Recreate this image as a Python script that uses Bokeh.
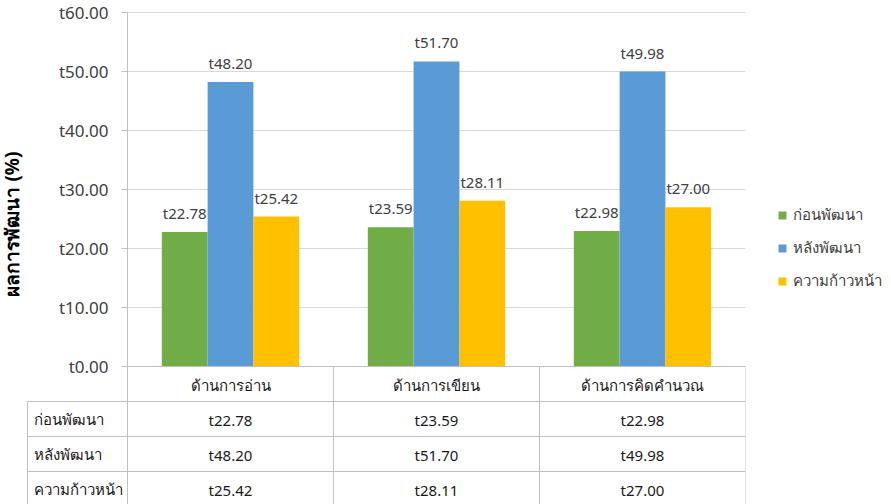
from bokeh.plotting import figure
from bokeh.models import Range1d, FixedTicker, Legend, LegendItem
from bokeh.embed import file_html
from bokeh.resources import INLINE
from bokeh.core.properties import value

# ---- data ----
categories = ["ด้านการอ่าน", "ด้านการเขียน", "ด้านการคิดคำนวณ"]
series_names = ["ก่อนพัฒนา", "หลังพัฒนา", "ความก้าวหน้า"]
before = [22.78, 23.59, 22.98]
after = [48.20, 51.70, 49.98]
progress = [25.42, 28.11, 27.00]
y_ticks = [0, 10, 20, 30, 40, 50, 60]
y_tick_labels = ["t0.00", "t10.00", "t20.00", "t30.00", "t40.00", "t50.00", "t60.00"]
y_label = "ผลการพัฒนา (%)"

series_values = [before, after, progress]
colors = ["#70AD47", "#5B9BD5", "#FFC000"]

# ---- styling / layout constants ----
FONT = "Noto Sans"
GRID = "#D9D9D9"
LINE = "#BFBFBF"
TXT = "#404040"
CELL = "#1a1a1a"

CHART_PX = 354.0          # pixel height of the 0..60 value area
TABLE_PX = 138.0          # pixel height of the table area below zero
TOP_PX = 12.0             # space above the top gridline
CAT_PX = 206.0            # pixel width of one category column
LABEL_COL_PX = 100.0      # pixel width of the row-label column
LEFT_PX = 27.0            # space left of the table
ROW_PX = 35.0             # table row height

YMAX = y_ticks[-1]
unit_px = CHART_PX / YMAX
ROW = ROW_PX / unit_px
y_bottom = -TABLE_PX / unit_px
y_top = YMAX + TOP_PX / unit_px

def fmt(v):
    return "t%.2f" % v

n = len(categories)
x_idx = list(range(n))
W = 2.0 / 9.0
bounds = [i - 0.5 for i in range(n + 1)]
x0 = -0.5 - LABEL_COL_PX / CAT_PX
x1 = n - 0.5
x_left = x0 - LEFT_PX / CAT_PX

p = figure(frame_width=int(CAT_PX * n + LABEL_COL_PX + LEFT_PX),
           frame_height=int(CHART_PX + TABLE_PX + TOP_PX),
           x_range=Range1d(x_left, x1), y_range=Range1d(y_bottom, y_top),
           min_border_left=0, min_border_right=146, min_border_top=0, min_border_bottom=0,
           output_backend="svg", toolbar_location=None)
p.outline_line_color = None
p.grid.visible = False

# value gridlines across the category area
gy = y_ticks[1:]
p.segment(x0=[-0.5] * len(gy), x1=[x1] * len(gy), y0=gy, y1=gy, line_color=GRID, line_width=1)

# bars + labels
bar_renderers = []
for s, (vals, col) in enumerate(zip(series_values, colors)):
    xs = [i + (s - 1) * W for i in x_idx]
    r = p.vbar(x=xs, top=vals, width=W, fill_color=col, line_color=None)
    bar_renderers.append(r)
    p.text(x=xs, y=vals, text=[fmt(v) for v in vals], text_align="center",
           text_baseline="alphabetic", y_offset=-19, text_font_size="15px",
           text_color=TXT, text_font=value(FONT))

# ---- data table below the chart ----
nr = len(series_names)
hy = [-(k + 1) * ROW for k in range(nr + 1)]
p.segment(x0=[x0] * len(hy), x1=[x1] * len(hy), y0=hy, y1=hy, line_color=LINE, line_width=1)
p.segment(x0=bounds, x1=bounds, y0=[0] * len(bounds), y1=[y_bottom] * len(bounds),
          line_color=LINE, line_width=1)
p.segment(x0=[x0], x1=[x0], y0=[-ROW], y1=[y_bottom], line_color=LINE, line_width=1)

row_mid = [-(k + 1.5) * ROW for k in range(nr)]
p.text(x=[x0] * nr, y=row_mid, text=series_names, text_align="left",
       text_baseline="middle", x_offset=6, y_offset=0, text_font_size="15px",
       text_color=CELL, text_font=value(FONT))
for s, vals in enumerate(series_values):
    p.text(x=x_idx, y=[row_mid[s]] * n, text=[fmt(v) for v in vals], text_align="center",
           text_baseline="middle", y_offset=1, text_font_size="15px",
           text_color=CELL, text_font=value(FONT))

# ---- axes ----
p.yaxis.fixed_location = -0.5
p.yaxis.bounds = (0, YMAX)
p.yaxis.ticker = FixedTicker(ticks=y_ticks, minor_ticks=[])
p.yaxis.major_label_overrides = {t: l for t, l in zip(y_ticks, y_tick_labels)}
p.yaxis.major_tick_out = 6
p.yaxis.major_tick_in = 0
p.yaxis.major_tick_line_color = LINE
p.yaxis.axis_line_color = LINE
p.yaxis.major_label_standoff = 13
p.yaxis.major_label_text_font = FONT
p.yaxis.major_label_text_font_size = "17px"
p.yaxis.major_label_text_color = TXT
p.yaxis.axis_label = y_label + "\u00a0" * 14
p.yaxis.axis_label_text_font = FONT
p.yaxis.axis_label_text_font_size = "19px"
p.yaxis.axis_label_text_font_style = "bold"
p.yaxis.axis_label_text_color = "#000000"
p.yaxis.axis_label_standoff = 31

p.xaxis.fixed_location = 0
p.xaxis.bounds = (-0.5, x1)
p.xaxis.ticker = FixedTicker(ticks=x_idx, minor_ticks=[])
p.xaxis.major_label_overrides = {i: c for i, c in zip(x_idx, categories)}
p.xaxis.major_tick_line_color = None
p.xaxis.major_tick_out = 0
p.xaxis.major_tick_in = 0
p.xaxis.axis_line_color = LINE
p.xaxis.major_label_standoff = 8
p.xaxis.major_label_text_font = FONT
p.xaxis.major_label_text_font_size = "15px"
p.xaxis.major_label_text_color = CELL

legend = Legend(items=[LegendItem(label=nm, renderers=[r]) for nm, r in zip(series_names, bar_renderers)],
                location=(32, 211), glyph_width=10, glyph_height=10, label_height=14,
                spacing=9, padding=0, margin=0, border_line_color=None,
                background_fill_alpha=0, label_standoff=6,
                label_text_font=FONT, label_text_font_size="15px", label_text_color=TXT)
p.add_layout(legend, "right")

open("out.html", "w").write(file_html(p, INLINE))
